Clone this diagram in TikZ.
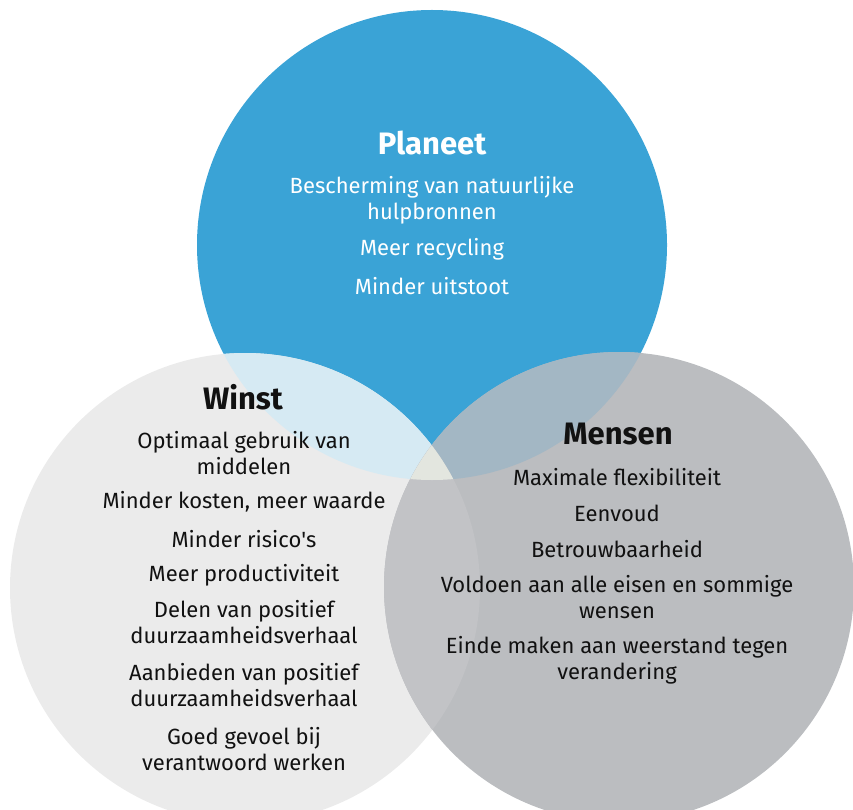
\documentclass[tikz,border=0pt]{standalone}
\usepackage{fontspec}
\setmainfont{Fira Sans}
\usepackage{xcolor}
\definecolor{planeetblue}{HTML}{3AA3D6}
\definecolor{winstgray}{HTML}{EBEBEB}
\definecolor{mensengray}{HTML}{BBBDC0}
\definecolor{pwblue}{HTML}{D6EAF3}
\definecolor{pmblue}{HTML}{A3B7C4}
\definecolor{wmgray}{HTML}{C2C3C6}
\definecolor{allthree}{HTML}{E3E6DF}
\definecolor{inkblack}{HTML}{111111}

\begin{document}
\begin{tikzpicture}[x=1pt,y=-1pt]
     \tikzstyle{title}=[font=\fontsize{31}{34}\selectfont\bfseries,inner sep=0pt]
     \tikzstyle{item}=[font=\fontsize{22}{26}\selectfont,align=center,inner sep=0pt]
     \useasboundingbox (0,0) rectangle (853,810);
     \clip (0,0) rectangle (853,810);

     \coordinate (cp) at (432,245);
     \coordinate (cw) at (245,588);
     \coordinate (cm) at (619,587);

     % the three circles
     \fill[planeetblue] (cp) circle (235pt);
     \fill[winstgray] (cw) circle (235pt);
     \fill[mensengray] (cm) circle (235pt);

     % overlaps
     \begin{scope}
       \clip (cp) circle (235pt);
       \fill[pwblue] (cw) circle (235pt);
       \fill[pmblue] (cm) circle (235pt);
     \end{scope}
     \begin{scope}
       \clip (cw) circle (235pt);
       \fill[wmgray] (cm) circle (235pt);
     \end{scope}
     \begin{scope}
       \clip (cp) circle (235pt);
       \clip (cw) circle (235pt);
       \fill[allthree] (cm) circle (235pt);
     \end{scope}

     % Planeet
     \node[title,white] (p0) at (432,143) {Planeet};
     \node[item,white] (p1) at (432,200) {Bescherming van natuurlijke\\hulpbronnen};
     \node[item,white] (p2) at (432,249) {Meer recycling};
     \node[item,white] (p3) at (432,286) {Minder uitstoot};

     % Winst
     \node[title,inkblack] (w0) at (243,397) {Winst};
     \node[item,inkblack] (w1) at (244,453) {Optimaal gebruik van\\middelen};
     \node[item,inkblack] (w2) at (244,502) {Minder kosten, meer waarde};
     \node[item,inkblack] (w3) at (244,539) {Minder risico\textquotesingle s};
     \node[item,inkblack] (w4) at (244,575) {Meer productiviteit};
     \node[item,inkblack] (w5) at (244,622) {Delen van positief\\duurzaamheidsverhaal};
     \node[item,inkblack] (w6) at (244,685) {Aanbieden van positief\\duurzaamheidsverhaal};
     \node[item,inkblack] (w7) at (244,749) {Goed gevoel bij\\verantwoord werken};

     % Mensen
     \node[title,inkblack] (m0) at (618,434) {Mensen};
     \node[item,inkblack] (m1) at (617,477) {Maximale flexibiliteit};
     \node[item,inkblack] (m2) at (617,513) {Eenvoud};
     \node[item,inkblack] (m3) at (617,549) {Betrouwbaarheid};
     \node[item,inkblack] (m4) at (617,597) {Voldoen aan alle eisen en sommige\\wensen};
     \node[item,inkblack] (m5) at (617,660) {Einde maken aan weerstand tegen\\verandering};
 \end{tikzpicture}
\end{document}
